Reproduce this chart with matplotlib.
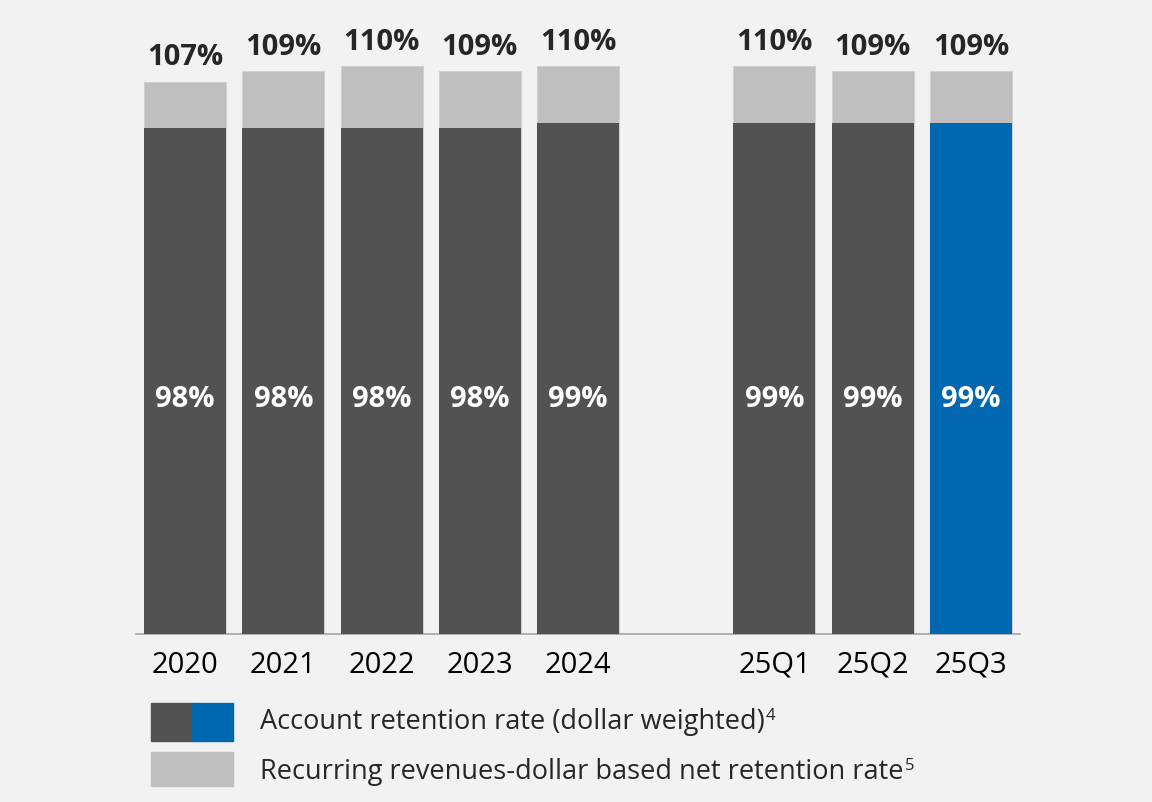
import matplotlib.pyplot as plt
from matplotlib.patches import Rectangle

# data
labels = ['2020', '2021', '2022', '2023', '2024', '25Q1', '25Q2', '25Q3']
positions = [0, 1, 2, 3, 4, 6, 7, 8]
account_rate = [98, 98, 98, 98, 99, 99, 99, 99]
net_retention = [107, 109, 110, 109, 110, 110, 109, 109]
highlight = [False, False, False, False, False, False, False, True]

legend_labels = ['Account retention rate (dollar weighted)',
                 'Recurring revenues-dollar based net retention rate']
legend_notes = ['4', '5']

bg = '#f2f2f2'
dark = '#525252'
light = '#bfbfbf'
blue = '#0067b1'

plt.rcParams['font.family'] = ['Open Sans', 'DejaVu Sans']

fig = plt.figure(figsize=(11.52, 8.02), dpi=100)
fig.patch.set_facecolor(bg)
ax = fig.add_axes([136 / 1152, 168 / 802, 884 / 1152, 634 / 802])
ax.set_facecolor(bg)

w = 0.835
ax.bar(positions, net_retention, width=w, color=light, edgecolor='#d0d0d0', linewidth=0.8, zorder=2)
cols = [blue if h else dark for h in highlight]
ax.bar(positions, account_rate, width=w, color=cols, linewidth=0, zorder=3)

for x, a, n in zip(positions, account_rate, net_retention):
    ax.annotate(f'{n}%', (x, n), xytext=(0, 17), textcoords='offset points',
                ha='center', va='center', fontsize=21, fontweight='bold', color='#262626')
    ax.text(x, 45.4, f'{a}%', ha='center', va='center', fontsize=21,
            fontweight='bold', color='white', zorder=4)

ax.set_xlim(-0.5, 8.5)
ax.set_ylim(0, 122.8)
ax.set_xticks(positions)
ax.set_xticklabels(labels, fontsize=21, color='black')
ax.tick_params(axis='x', length=0, pad=12)
ax.set_yticks([])
for s in ['top', 'right', 'left']:
    ax.spines[s].set_visible(False)
ax.spines['bottom'].set_color('#a6a6a6')
ax.spines['bottom'].set_linewidth(1.2)

# legend
H = 802.0
W = 1152.0
fig.patches.append(Rectangle((151 / W, (H - 741) / H), 41 / W, 38 / H,
                             transform=fig.transFigure, color=dark))
fig.patches.append(Rectangle((192 / W, (H - 741) / H), 41 / W, 38 / H,
                             transform=fig.transFigure, color=blue))
fig.patches.append(Rectangle((151 / W, (H - 786) / H), 82 / W, 34 / H,
                             transform=fig.transFigure, color=light))
fig.canvas.draw()
r = fig.canvas.get_renderer()
for lab, note, yc in zip(legend_labels, legend_notes, [722, 772]):
    t = fig.text(260 / W, (H - yc) / H, lab, fontsize=19.5, color='#262626', va='center')
    bb = t.get_window_extent(r)
    fig.text(bb.x1 / W + 1 / W, (H - yc + 6) / H, note, fontsize=12, color='#262626', va='center')

fig.savefig('out.png', dpi=100, facecolor=bg)
